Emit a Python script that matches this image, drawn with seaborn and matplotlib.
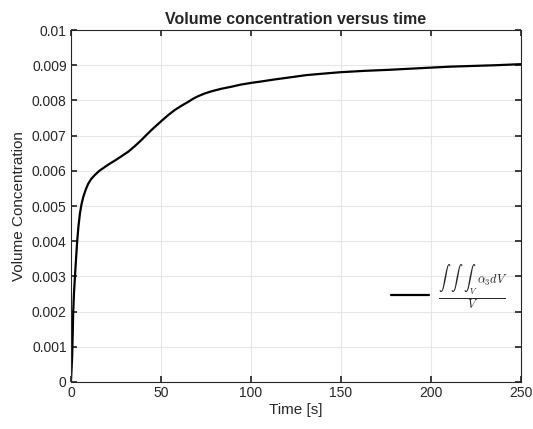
import matplotlib
matplotlib.use("Agg")
import matplotlib.pyplot as plt
import seaborn as sns
import pandas as pd

time_s = [0, 0.35, 0.7, 1.0, 1.3, 1.7, 2.2, 2.8, 3.5, 4.2, 5.0, 5.9, 6.9, 8.2, 9.6, 11.3, 13.3, 15.8, 18.9, 21.5, 24.4, 28.0, 31.8, 35.5, 39.3, 42.0, 44.8, 47.6, 50.4, 54.0, 57.8, 61.5, 65.2, 68.0, 70.7, 74.5, 78.2, 83.5, 89.3, 94.5, 100.4, 106.0, 112.4, 121.0, 131.0, 140.0, 149.4, 163.0, 177.0, 188.0, 199.4, 211.0, 223.5, 236.0, 250.0]
vol_conc = [0, 0.00035, 0.00072, 0.00135, 0.00200, 0.00250, 0.00295, 0.00345, 0.00400, 0.00442, 0.00478, 0.00505, 0.00526, 0.00546, 0.00563, 0.00577, 0.00588, 0.00600, 0.00611, 0.00620, 0.00629, 0.00641, 0.00654, 0.00670, 0.00688, 0.00702, 0.00716, 0.00729, 0.00742, 0.00758, 0.00773, 0.00785, 0.00796, 0.00805, 0.00812, 0.00820, 0.00826, 0.00833, 0.00839, 0.00845, 0.00850, 0.00854, 0.00859, 0.00865, 0.00872, 0.00876, 0.00880, 0.00884, 0.00887, 0.00890, 0.00893, 0.00896, 0.00898, 0.00900, 0.00903]

sns.set_theme(style="whitegrid")
plt.rcParams['font.family'] = ['Liberation Sans', 'DejaVu Sans']
plt.rcParams['mathtext.fontset'] = 'cm'

df = pd.DataFrame({"t": time_s, "c": vol_conc})

fig = plt.figure(figsize=(5.33, 4.29), dpi=100)
ax = fig.add_axes([0.133, 0.1096, 0.844, 0.8204])
sns.lineplot(data=df, x="t", y="c", ax=ax, color="black", linewidth=1.6,
             label=r"$\frac{\int\;\;\int\;\;\int_V\;\alpha_3 dV}{V}$")

ax.set_xlim(0, 250)
ax.set_ylim(0, 0.01)
ax.set_xticks([0, 50, 100, 150, 200, 250])
ax.set_yticks([i * 0.001 for i in range(11)])
ax.set_yticklabels(["0"] + [f"{i*0.001:g}" for i in range(1, 10)] + ["0.01"])
ax.grid(True, color="#e6e6e6", linewidth=0.8)
for s in ax.spines.values():
    s.set_visible(True)
    s.set_color("#262626")
    s.set_linewidth(0.8)
ax.tick_params(direction="in", length=4, color="#262626", labelsize=10, labelcolor="#262626",
               top=True, right=True, bottom=True, left=True, pad=3)
ax.set_xlabel("Time [s]", fontsize=11, color="#262626", labelpad=2)
ax.set_ylabel("Volume Concentration", fontsize=11, color="#262626", labelpad=4)
ax.set_title("Volume concentration versus time", fontsize=11.5, fontweight="bold", pad=4)
leg = ax.legend(loc="center right", bbox_to_anchor=(1.005, 0.27), frameon=False, fontsize=12.5,
                handlelength=2.2, handletextpad=0.5)
fig.savefig("out.png", dpi=100)
